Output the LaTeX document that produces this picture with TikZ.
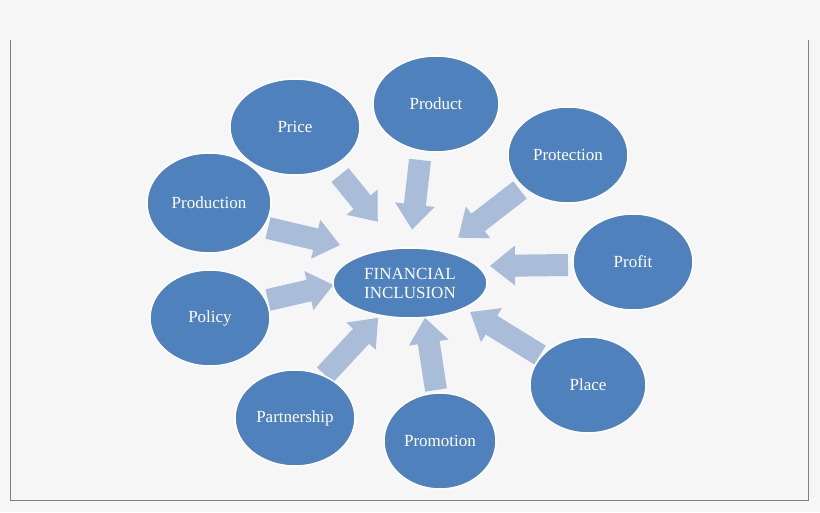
\documentclass[tikz,border=0pt]{standalone}
\usepackage{fontspec}
\setmainfont{Liberation Serif}
\begin{document}
\begin{tikzpicture}[x=1pt,y=1pt,
  bub/.style={ellipse,draw=white,line width=1.5pt,fill=blueb,text=white,font=\fontsize{17}{19}\selectfont,align=center},
  arrowfill/.style={fill=arrowc}]
\definecolor{blueb}{HTML}{4F81BD}
\definecolor{arrowc}{HTML}{A9BDD9}
\usetikzlibrary{shapes.geometric}
\fill[white!96.5!black] (0,0) rectangle (820,512);
\useasboundingbox (0,0) rectangle (820,512);
\draw[gray,line width=0.8pt] (10,472) -- (10,12) -- (808,12) -- (808,472);
\newcommand\barrow[3]{\fill[arrowfill,shift={(#1)},rotate=#2] (0,-11) -- (#3-25,-11) -- (#3-25,-20) -- (#3,0) -- (#3-25,20) -- (#3-25,11) -- (0,11) -- cycle;}
\coordinate (aPrice) at (340,337);
\coordinate (aProduct) at (420,352);
\coordinate (aProtection) at (520,322);
\coordinate (aProduction) at (268,284);
\coordinate (aProfit) at (568,247);
\coordinate (aPolicy) at (268,212);
\coordinate (aPlace) at (540,157);
\coordinate (aPartnership) at (325,137);
\coordinate (aPromotion) at (436,122);
\barrow{aPrice}{-51}{60}
\barrow{aProduct}{-96.5}{70}
\barrow{aProtection}{-142.3}{78}
\barrow{aProduction}{-13.3}{74}
\barrow{aProfit}{180.7}{78}
\barrow{aPolicy}{13}{67}
\barrow{aPlace}{148.4}{82}
\barrow{aPartnership}{47.1}{78}
\barrow{aPromotion}{98.7}{73}
\node[bub,minimum width=154pt,minimum height=70pt,inner sep=0pt] (fi) at (410,229) {FINANCIAL\\INCLUSION};
\node[bub,minimum width=130pt,minimum height=96pt] (price) at (295,385) {Price};
\node[bub,minimum width=126pt,minimum height=96pt] (product) at (436,408) {Product};
\node[bub,minimum width=120pt,minimum height=96pt,inner sep=0pt] (protection) at (568,357) {Protection};
\node[bub,minimum width=124pt,minimum height=100pt,inner sep=0pt] (production) at (209,309) {Production};
\node[bub,minimum width=120pt,minimum height=96pt] (profit) at (633,250) {Profit};
\node[bub,minimum width=120pt,minimum height=96pt] (policy) at (210,194) {Policy};
\node[bub,minimum width=116pt,minimum height=96pt] (place) at (588,127) {Place};
\node[bub,minimum width=120pt,minimum height=96pt,inner sep=0pt] (partnership) at (295,94) {Partnership};
\node[bub,minimum width=112pt,minimum height=96pt,inner sep=0pt] (promotion) at (440,71) {Promotion};
\end{tikzpicture}
\end{document}
